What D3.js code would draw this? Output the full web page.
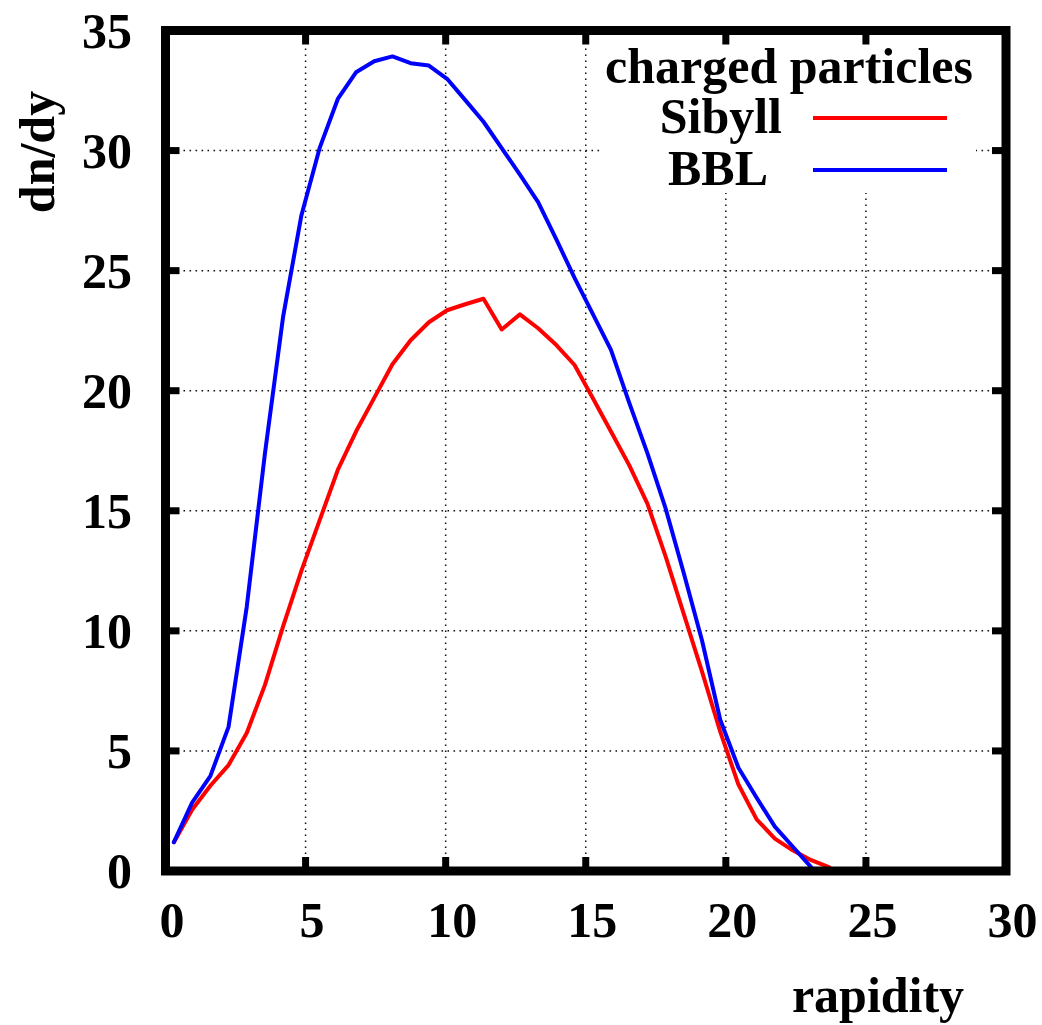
<!DOCTYPE html>
<html>
<head>
<meta charset="utf-8">
<script src="https://cdn.jsdelivr.net/npm/d3@7"></script>
<style>
  html, body { margin: 0; padding: 0; background: #fff; }
  svg { display: block; }
  text { font-family: "Liberation Serif", "DejaVu Serif", serif; font-weight: bold; fill: #000; }
</style>
</head>
<body>
<svg id="chart" width="1042" height="1025"></svg>
<script>
// ---- data ----
const rapidity = [0.30, 0.95, 1.60, 2.25, 2.90, 3.55, 4.20, 4.85, 5.50, 6.15, 6.80, 7.45, 8.10, 8.75,
  9.40, 10.05, 10.70, 11.35, 12.00, 12.65, 13.30, 13.95, 14.60, 15.25, 15.90, 16.55, 17.20, 17.85,
  18.50, 19.15, 19.80, 20.45, 21.10, 21.75, 22.40, 23.05, 23.70];
const sibyll = [1.2, 2.55, 3.55, 4.41, 5.75, 7.75, 10.2, 12.5, 14.6, 16.7, 18.3, 19.7, 21.1, 22.1,
  22.85, 23.35, 23.6, 23.83, 22.55, 23.18, 22.6, 21.9, 21.07, 19.7, 18.3, 16.9, 15.3, 13.1,
  10.7, 8.3, 5.8, 3.6, 2.15, 1.35, 0.85, 0.45, 0.15];
const bbl = [1.2, 2.85, 3.95, 6.0, 11.0, 17.4, 23.1, 27.3, 30.1, 32.15, 33.26, 33.72, 33.92, 33.64,
  33.54, 32.99, 32.1, 31.2, 30.1, 29.0, 27.85, 26.3, 24.7, 23.2, 21.7, 19.5, 17.4, 15.1,
  12.4, 9.6, 6.3, 4.3, 3.05, 1.85, 1.0, 0.15];
const xTicks = [0, 5, 10, 15, 20, 25, 30];
const yTicks = [0, 5, 10, 15, 20, 25, 30, 35];
const seriesNames = ["Sibyll", "BBL"];
const seriesColors = ["#ff0000", "#0000ff"];
const legendTitle = "charged particles";
const xLabel = "rapidity";
const yLabel = "dn/dy";

(function () {
// ---- layout ----
const pL = 165.5, pR = 1006, pT = 30.5, pB = 871;
const FS = 50;

const svg = d3.select("#chart");
const x = d3.scaleLinear().domain([0, 30]).range([pL, pR]);
const y = d3.scaleLinear().domain([0, 35]).range([pB, pT]);

// grid
const grid = svg.append("g").attr("stroke", "#111").attr("stroke-width", 1.5)
  .attr("stroke-dasharray", "1.6,4.4").attr("fill", "none");
grid.selectAll("line.gx").data(xTicks.slice(1, -1)).join("line").attr("class", "gx")
  .attr("x1", d => x(d)).attr("x2", d => x(d)).attr("y1", pT).attr("y2", pB);
grid.selectAll("line.gy").data(yTicks.slice(1, -1)).join("line").attr("class", "gy")
  .attr("x1", pL).attr("x2", pR).attr("y1", d => y(d)).attr("y2", d => y(d));

// legend background box (hides grid)
const legX0 = 600, legX1 = 976, legY0 = 35, legY1 = 193;
svg.append("rect").attr("x", legX0).attr("y", legY0)
  .attr("width", legX1 - legX0).attr("height", legY1 - legY0).attr("fill", "#fff");

// curves
const line = d3.line().x(d => x(d[0])).y(d => y(d[1]));
const series = [sibyll, bbl];
series.forEach((vals, k) => {
  const pts = vals.map((v, i) => [rapidity[i], v]);
  svg.append("path").datum(pts).attr("d", line)
    .attr("fill", "none").attr("stroke", seriesColors[k])
    .attr("stroke-width", 4).attr("stroke-linejoin", "round").attr("stroke-linecap", "round");
});

// ticks (inward, all four sides)
const tk = svg.append("g").attr("stroke", "#000").attr("stroke-width", 7);
const TL = 14;
xTicks.forEach(t => {
  tk.append("line").attr("x1", x(t)).attr("x2", x(t)).attr("y1", pB).attr("y2", pB - TL);
  tk.append("line").attr("x1", x(t)).attr("x2", x(t)).attr("y1", pT).attr("y2", pT + TL);
});
yTicks.forEach(t => {
  tk.append("line").attr("x1", pL).attr("x2", pL + TL).attr("y1", y(t)).attr("y2", y(t));
  tk.append("line").attr("x1", pR).attr("x2", pR - TL).attr("y1", y(t)).attr("y2", y(t));
});

// frame
svg.append("rect").attr("x", pL).attr("y", pT)
  .attr("width", pR - pL).attr("height", pB - pT)
  .attr("fill", "none").attr("stroke", "#000").attr("stroke-width", 9);

// axes labels via d3 axes
const xAxis = svg.append("g").attr("transform", `translate(0,${pB})`)
  .call(d3.axisBottom(x).tickValues(xTicks).tickSize(0).tickFormat(d3.format("d")));
xAxis.select(".domain").remove();
xAxis.selectAll("text").attr("y", 66).attr("dy", null).attr("dx", 6)
  .style("font-size", FS + "px").style("font-family", "Liberation Serif").style("font-weight", "bold").attr("fill", "#000");

const yAxis = svg.append("g").attr("transform", `translate(${pL},0)`)
  .call(d3.axisLeft(y).tickValues(yTicks).tickSize(0).tickFormat(d3.format("d")));
yAxis.select(".domain").remove();
yAxis.selectAll("text").attr("x", -33.5).attr("dy", "0.33em")
  .style("font-size", FS + "px").style("font-family", "Liberation Serif").style("font-weight", "bold").attr("fill", "#000");

// axis titles
svg.append("text").attr("x", 878).attr("y", 1012).attr("text-anchor", "middle")
  .style("font-size", FS + "px").text(xLabel);
svg.append("text").attr("transform", "translate(54,152) rotate(-90)").attr("text-anchor", "middle")
  .style("font-size", FS + "px").text(yLabel);

// legend
svg.append("text").attr("x", 789).attr("y", 83).attr("text-anchor", "middle")
  .style("font-size", FS + "px").text(legendTitle);
const legTextRight = [782, 768];
const legBase = [133, 185];
seriesNames.forEach((name, k) => {
  svg.append("text").attr("x", legTextRight[k]).attr("y", legBase[k]).attr("text-anchor", "end")
    .style("font-size", FS + "px").text(name);
  svg.append("line").attr("x1", 813).attr("x2", 947)
    .attr("y1", legBase[k] - 15).attr("y2", legBase[k] - 15)
    .attr("stroke", seriesColors[k]).attr("stroke-width", 4);
});
})();
</script>
</body>
</html>
